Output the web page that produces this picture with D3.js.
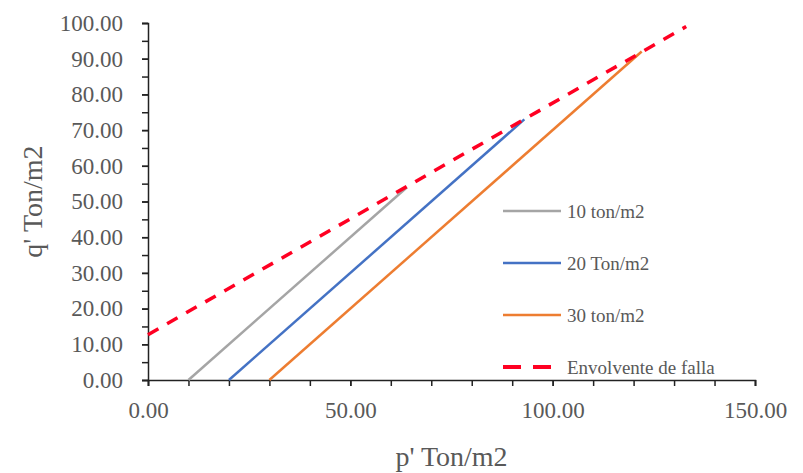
<!DOCTYPE html>
<html>
<head>
<meta charset="utf-8">
<script src="https://cdn.jsdelivr.net/npm/d3@7"></script>
<style>
  body { margin: 0; background: #fff; }
  text { font-family: "Liberation Serif", "Times New Roman", serif; fill: #595959; }
</style>
</head>
<body>
<div id="container"></div>
<script>
// series: [p', q'] points
const serie10 = [[10, 0], [64, 54]];
const serie20 = [[20, 0], [93, 73]];
const serie30 = [[30, 0], [122, 92]];
const envolvente = [[0, 12.7], [133, 99]];

const seriesNames = ['10 ton/m2', '20 Ton/m2', '30 ton/m2', 'Envolvente de falla'];
const xTicks = [0, 50, 100, 150];
const yTicks = [0, 10, 20, 30, 40, 50, 60, 70, 80, 90, 100];

const width = 803, height = 473;
const margin = {top: 23, right: 48, bottom: 93, left: 148};
const w = width - margin.left - margin.right;
const h = height - margin.top - margin.bottom;

const svg = d3.select('#container').append('svg')
  .attr('width', width)
  .attr('height', height);

const g = svg.append('g').attr('transform', `translate(${margin.left},${margin.top})`);

const x = d3.scaleLinear().domain([0, 150]).range([0, w]);
const y = d3.scaleLinear().domain([0, 100]).range([h, 0]);

//minor ticks
g.append('g')
  .attr('transform', `translate(0,${h})`)
  .call(d3.axisBottom(x).tickValues(d3.range(0, 151, 10)).tickSize(6).tickFormat(''))
  .call(a => a.select('.domain').remove())
  .selectAll('line').attr('stroke', '#222').attr('stroke-width', 1.5);

g.append('g')
  .call(d3.axisLeft(y).tickValues(d3.range(0, 101, 5)).tickSize(6).tickFormat(''))
  .call(a => a.select('.domain').remove())
  .selectAll('line').attr('stroke', '#222').attr('stroke-width', 1.5);

//labelled axes
const xAxis = g.append('g')
  .attr('transform', `translate(0,${h})`)
  .call(d3.axisBottom(x).tickValues(xTicks).tickSize(6).tickPadding(16).tickFormat(d3.format('.2f')));
xAxis.select('.domain').attr('stroke', '#222').attr('stroke-width', 1.5);
xAxis.selectAll('line').attr('stroke', '#222').attr('stroke-width', 1.5);
xAxis.selectAll('text').attr('font-size', 23).attr('fill', '#595959');

const yAxis = g.append('g')
  .call(d3.axisLeft(y).tickValues(yTicks).tickSize(6).tickPadding(19).tickFormat(d3.format('.2f')));
yAxis.select('.domain').attr('stroke', '#222').attr('stroke-width', 1.5);
yAxis.selectAll('line').attr('stroke', '#222').attr('stroke-width', 1.5);
yAxis.selectAll('text').attr('font-size', 23).attr('fill', '#595959');

const line = d3.line().x(d => x(d[0])).y(d => y(d[1]));

const series = [
  {name: seriesNames[0], data: serie10, color: '#A5A5A5', dash: null},
  {name: seriesNames[1], data: serie20, color: '#4472C4', dash: null},
  {name: seriesNames[2], data: serie30, color: '#ED7D31', dash: null},
  {name: seriesNames[3], data: envolvente, color: '#FF0022', dash: '12,10'}
];

series.forEach(s => {
  g.append('path')
    .datum(s.data)
    .attr('d', line)
    .attr('fill', 'none')
    .attr('stroke', s.color)
    .attr('stroke-width', s.dash ? 3.5 : 2.5)
    .attr('stroke-dasharray', s.dash);
});

//legend
const legend = svg.append('g').attr('transform', 'translate(503,211)');
series.forEach((s, i) => {
  const row = legend.append('g').attr('transform', `translate(0,${i * 52})`);
  row.append('line')
    .attr('x1', 0).attr('x2', s.dash ? 48 : 58)
    .attr('y1', 0).attr('y2', 0)
    .attr('stroke', s.color)
    .attr('stroke-width', s.dash ? 4 : 2.5)
    .attr('stroke-dasharray', s.dash ? '18,12' : null);
  row.append('text')
    .attr('x', 64)
    .attr('y', 0)
    .attr('dy', '0.35em')
    .attr('font-size', 19)
    .text(s.name);
});

//axis titles
svg.append('text')
  .attr('x', margin.left + x(75))
  .attr('y', 466)
  .attr('text-anchor', 'middle')
  .attr('font-size', 28)
  .text("p' Ton/m2");

svg.append('text')
  .attr('transform', `translate(42,${margin.top + y(50)}) rotate(-90)`)
  .attr('text-anchor', 'middle')
  .attr('font-size', 28)
  .text("q' Ton/m2");
</script>
</body>
</html>
